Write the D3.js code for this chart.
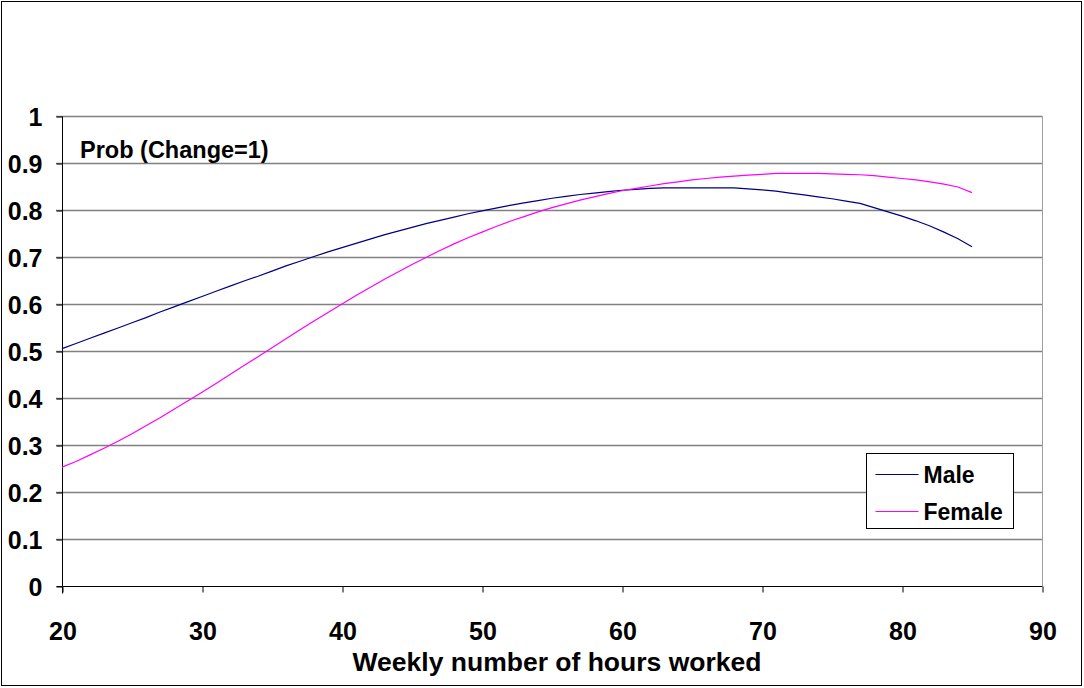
<!DOCTYPE html>
<html>
<head>
<meta charset="utf-8">
<script src="https://cdn.jsdelivr.net/npm/d3@7"></script>
<style>
  body { margin: 0; background: #fff; }
  text { font-family: "Liberation Sans", Arial, sans-serif; font-weight: bold; fill: #000; }
</style>
</head>
<body>
<svg id="chart" width="1084" height="688"></svg>
<script>
// hours worked per week, one point per hour
const hours = d3.range(20, 86);

const male = [
  0.505, 0.516, 0.527, 0.538, 0.549, 0.560, 0.571, 0.583, 0.594, 0.605,
  0.616, 0.627, 0.638, 0.649, 0.659, 0.670, 0.681, 0.691, 0.701, 0.711,
  0.720, 0.729, 0.738, 0.747, 0.755, 0.763, 0.771, 0.778, 0.785, 0.792,
  0.798, 0.804, 0.810, 0.815, 0.820, 0.825, 0.829, 0.833, 0.836, 0.839,
  0.842, 0.844, 0.846, 0.847, 0.847, 0.847, 0.847, 0.847, 0.847, 0.845,
  0.843, 0.840, 0.836, 0.832, 0.828, 0.824, 0.819, 0.814, 0.805, 0.796,
  0.787, 0.777, 0.766, 0.753, 0.739, 0.722
];

const female = [
  0.253, 0.265, 0.279, 0.293, 0.308, 0.324, 0.341, 0.358, 0.376, 0.394,
  0.412, 0.431, 0.450, 0.469, 0.488, 0.507, 0.526, 0.545, 0.564, 0.582,
  0.600, 0.618, 0.635, 0.652, 0.668, 0.684, 0.699, 0.714, 0.728, 0.741,
  0.753, 0.765, 0.776, 0.786, 0.796, 0.805, 0.813, 0.821, 0.828, 0.835,
  0.841, 0.846, 0.851, 0.856, 0.860, 0.864, 0.867, 0.870, 0.872, 0.874,
  0.876, 0.878, 0.878, 0.878, 0.878, 0.877, 0.876, 0.875, 0.873, 0.870,
  0.867, 0.864, 0.860, 0.855, 0.849, 0.837
];

const xTicks = [20, 30, 40, 50, 60, 70, 80, 90];
const yTicks = [0, 0.1, 0.2, 0.3, 0.4, 0.5, 0.6, 0.7, 0.8, 0.9, 1];
const seriesNames = ['Male', 'Female'];
const seriesColors = ['#000080', '#ff00ff'];

const svg = d3.select('#chart');
const plotL = 62, plotR = 1042, plotT = 116, plotB = 586;

// outer frame
svg.append('rect')
  .attr('x', 1.5).attr('y', 1.5)
  .attr('width', 1080).attr('height', 684)
  .attr('fill', 'none').attr('stroke', '#000').attr('stroke-width', 1);

const x = d3.scaleLinear().domain([20, 90]).range([plotL, plotR]);
const y = d3.scaleLinear().domain([0, 1]).range([plotB, plotT]);

// gridlines
svg.append('g')
  .selectAll('line')
  .data(yTicks.filter(d => d > 0))
  .join('line')
    .attr('x1', plotL - 6).attr('x2', plotR)
    .attr('y1', d => Math.round(y(d)) + 0.5)
    .attr('y2', d => Math.round(y(d)) + 0.5)
    .attr('stroke', '#808080').attr('stroke-width', 1.5);

// right edge of plot area
svg.append('line')
  .attr('x1', plotR + 0.5).attr('x2', plotR + 0.5)
  .attr('y1', plotT).attr('y2', plotB)
  .attr('stroke', '#a0a0a0');

// y axis
const yAxis = svg.append('g')
  .attr('transform', `translate(${plotL + 0.5},0.5)`)
  .call(d3.axisLeft(y).tickValues(yTicks).tickSize(6).tickPadding(14)
    .tickFormat(d => String(+d.toFixed(1))));
yAxis.select('.domain').attr('stroke', '#000').attr('d', `M0,${plotT}V${plotB + 7}`);
yAxis.selectAll('text').style('font-size', '25px').attr('dy', '0.35em');

// x axis
const xAxis = svg.append('g')
  .attr('transform', `translate(0.5,${plotB + 0.5})`)
  .call(d3.axisBottom(x).tickValues(xTicks).tickSize(6).tickPadding(30));
xAxis.select('.domain').attr('stroke', '#000').attr('d', `M${plotL - 6},0H${plotR}`);
xAxis.selectAll('text').style('font-size', '25px');

// axis title and label
svg.append('text')
  .attr('x', 557).attr('y', 671)
  .attr('text-anchor', 'middle')
  .style('font-size', '26.5px')
  .text('Weekly number of hours worked');

svg.append('text')
  .attr('x', 80).attr('y', 158)
  .style('font-size', '23.5px')
  .text('Prob (Change=1)');

// lines
const line = d3.line()
  .x((d, i) => x(hours[i]))
  .y(d => y(d));

[male, female].forEach((vals, i) => {
  svg.append('path')
    .datum(vals)
    .attr('d', line)
    .attr('fill', 'none')
    .attr('stroke', seriesColors[i])
    .attr('stroke-width', 1.2);
});

// legend
const legend = svg.append('g').attr('transform', 'translate(866.5,453.5)');
legend.append('rect')
  .attr('width', 147).attr('height', 75)
  .attr('fill', '#fff').attr('stroke', '#000');
seriesNames.forEach((name, i) => {
  const ly = 21 + i * 37;
  legend.append('line')
    .attr('x1', 9).attr('x2', 52)
    .attr('y1', ly).attr('y2', ly)
    .attr('stroke', seriesColors[i]).attr('stroke-width', 1.2);
  legend.append('text')
    .attr('x', 57).attr('y', ly + 8)
    .style('font-size', '23px')
    .text(name);
});
</script>
</body>
</html>
